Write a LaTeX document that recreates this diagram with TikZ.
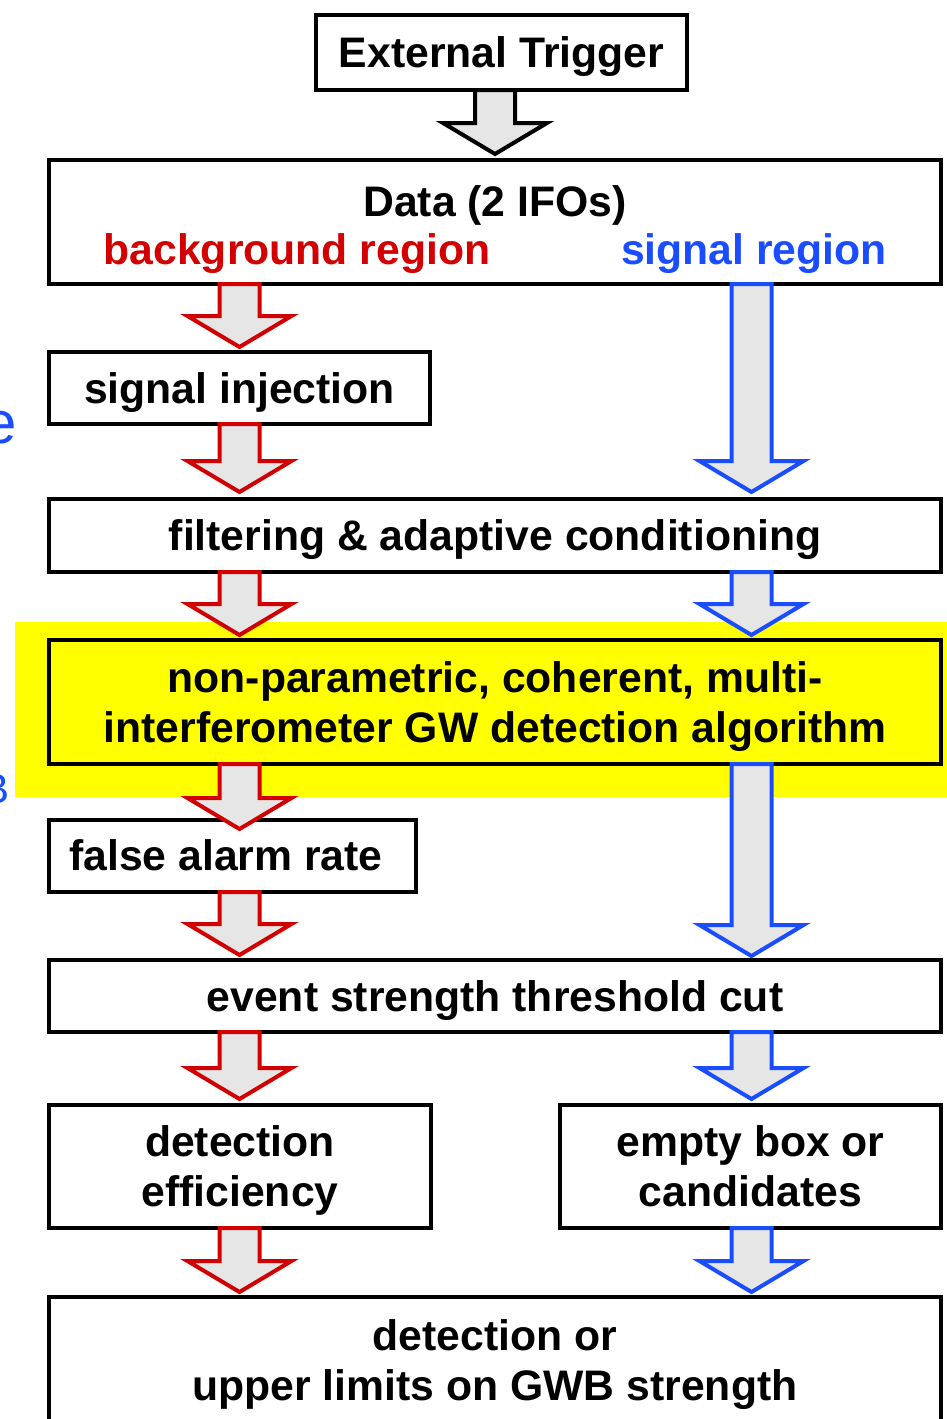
\documentclass[tikz,border=0pt]{standalone}
\usepackage{fontspec}
\setmainfont{Liberation Sans}
\usetikzlibrary{calc}

\definecolor{flowred}{RGB}{210,0,0}
\definecolor{flowblue}{RGB}{26,77,255}
\definecolor{shaftgray}{RGB}{230,230,230}
\definecolor{hiyellow}{RGB}{255,255,0}

% Hollow block arrow: #1 style, #2 x of the shaft axis,
% #3 source node (leaves its south side), #4 target node,
% #5 gap between the tip and the target's north side (negative overlaps)
\newcommand\blockarrow[5]{%
  \draw[#1] let \p1=(#3.south), \p2=(#4.north) in
    ({#2-20},\y1) -- ({#2-20},{\y2+(#5pt)+31pt})
    -- ({#2-52},{\y2+(#5pt)+31pt}) -- ({#2},{\y2+(#5pt)})
    -- ({#2+52},{\y2+(#5pt)+31pt}) -- ({#2+20},{\y2+(#5pt)+31pt})
    -- ({#2+20},\y1) -- cycle;}

\newcommand\flowfont{\bfseries\fontsize{42.7}{50}\selectfont}

\begin{document}
\begin{tikzpicture}[x=1pt,y=-1pt,
  box/.style={draw=black, line width=4pt, outer sep=0pt, inner sep=0pt,
    align=center, text depth=0pt, font=\flowfont},
  caption/.style={inner sep=0pt, align=center, font=\flowfont},
  redarrow/.style={draw=flowred, fill=shaftgray, line width=4pt, line join=miter},
  bluearrow/.style={draw=flowblue, fill=shaftgray, line width=4pt, line join=miter},
  blackarrow/.style={draw=black, fill=shaftgray, line width=4pt, line join=miter},
  sidenote/.style={inner sep=0pt, text=flowblue, anchor=base east}]

\useasboundingbox (0,0) rectangle (947,1419);

% highlight band behind the detection algorithm
\fill[hiyellow] (15,622) rectangle (960,797);

% clipped side annotations
\node[sidenote, font=\fontsize{60}{72}\selectfont] (sidee) at (17,443) {e};
\node[sidenote, font=\fontsize{42}{50}\selectfont] (sideb) at (10,803) {B};

% boxes
\node[box, minimum width=371, minimum height=75] (trig) at (501.5,52.5) {External Trigger};
\node[box, minimum width=892, minimum height=124] (data) at (495,222) {};
\node[caption, anchor=base] (datat) at (495,216) {Data (2 IFOs)};
\node[caption, anchor=base, text=flowred] (bgt) at (297,264) {background region};
\node[caption, anchor=base, text=flowblue] (sgt) at (754,264) {signal region};

\node[box, minimum width=381, minimum height=72] (inj) at (239.5,388) {signal injection};
\node[box, minimum width=892, minimum height=73] (filt) at (495,535.5) {filtering \& adaptive conditioning};
\node[box, fill=hiyellow, minimum width=892, minimum height=124] (alg) at (495,702)
  {non-parametric, coherent, multi-\\interferometer GW detection algorithm};
\node[box, minimum width=367, minimum height=72] (fa) at (232.5,856) {};
\node[caption, anchor=base] (fat) at (226,870) {false alarm rate};
\node[box, minimum width=892, minimum height=72] (evt) at (495,996) {event strength threshold cut};
\node[box, minimum width=382, minimum height=123] (eff) at (240,1166.5) {detection\\efficiency};
\node[box, minimum width=381, minimum height=123] (emp) at (750.5,1166.5) {empty box or\\candidates};
\node[box, minimum width=892, minimum height=180] (fin) at (495,1387) {};
\node[caption, text depth=0pt] (fint) at (495,1360) {detection or\\upper limits on GWB strength};

% arrows
\blockarrow{blackarrow}{495}{trig}{data}{6}

\blockarrow{redarrow}{239.5}{data}{inj}{5}
\blockarrow{redarrow}{239.5}{inj}{filt}{7}
\blockarrow{redarrow}{239.5}{filt}{alg}{5}
\blockarrow{redarrow}{239.5}{alg}{fa}{-9}
\blockarrow{redarrow}{239.5}{fa}{evt}{5}
\blockarrow{redarrow}{239.5}{evt}{eff}{6}
\blockarrow{redarrow}{239.5}{eff}{fin}{5}

\blockarrow{bluearrow}{751.5}{data}{filt}{7}
\blockarrow{bluearrow}{751.5}{filt}{alg}{5}
\blockarrow{bluearrow}{751.5}{alg}{evt}{4}
\blockarrow{bluearrow}{751.5}{evt}{emp}{6}
\blockarrow{bluearrow}{751.5}{emp}{fin}{5}

\end{tikzpicture}
\end{document}
